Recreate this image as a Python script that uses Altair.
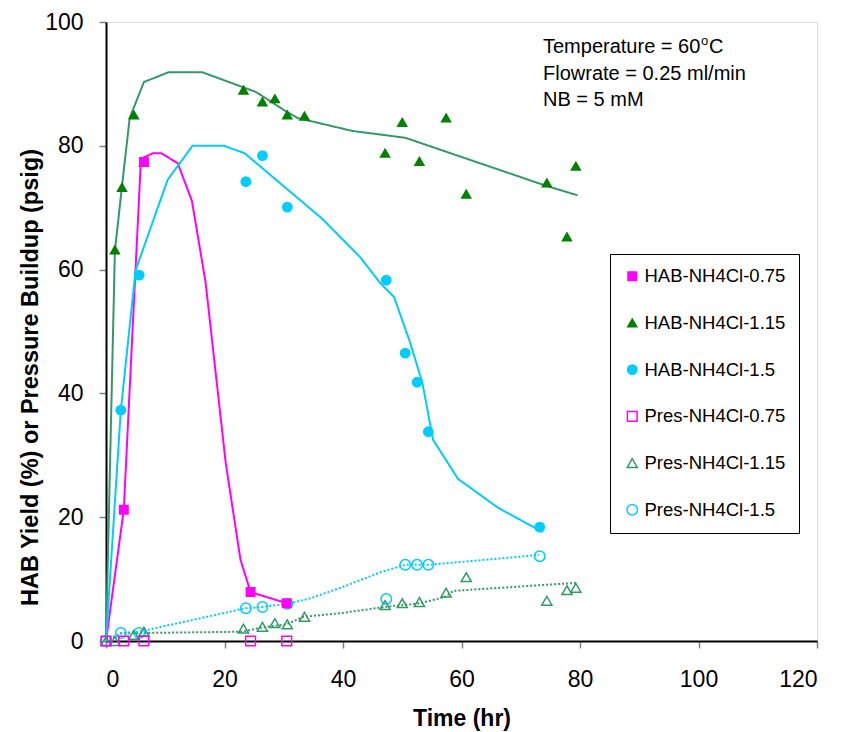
import altair as alt
import pandas as pd

# ---------------- data ----------------
series_names = ["HAB-NH4Cl-0.75", "HAB-NH4Cl-1.15", "HAB-NH4Cl-1.5",
                "Pres-NH4Cl-0.75", "Pres-NH4Cl-1.15", "Pres-NH4Cl-1.5"]

t_hab_075 = [3.0, 6.4, 24.4, 30.5]
y_hab_075 = [21.2, 77.4, 7.9, 6.1]

t_hab_115 = [1.5, 2.7, 4.7, 6.4, 23.2, 26.4, 28.5, 30.6, 33.5, 47.1, 50.0, 52.9, 57.4, 60.8, 74.4, 77.8, 79.3]
y_hab_115 = [63.2, 73.3, 85.0, 77.4, 89.0, 87.1, 87.6, 85.0, 84.8, 78.8, 83.8, 77.5, 84.5, 72.2, 74.0, 65.3, 76.7]

t_hab_15 = [2.5, 5.6, 23.6, 26.4, 30.6, 47.3, 50.5, 52.5, 54.4, 73.2]
y_hab_15 = [37.3, 59.1, 74.2, 78.4, 70.1, 58.3, 46.5, 41.8, 33.8, 18.4]

t_pres_075 = [0.0, 3.0, 6.4, 24.4, 30.5]
y_pres_075 = [0.0, 0.0, 0.0, 0.0, 0.0]

t_pres_115 = [0.0, 1.5, 4.7, 6.4, 23.2, 26.4, 28.5, 30.6, 33.5, 47.1, 50.0, 52.9, 57.4, 60.8, 74.4, 77.8, 79.3]
y_pres_115 = [0.0, 0.0, 1.0, 1.5, 2.0, 2.3, 2.9, 2.7, 3.9, 5.8, 6.1, 6.3, 7.8, 10.3, 6.5, 8.2, 8.6]

t_pres_15 = [0.0, 2.5, 5.6, 23.6, 26.4, 30.6, 47.3, 50.5, 52.5, 54.4, 73.2]
y_pres_15 = [0.0, 1.3, 1.3, 5.3, 5.5, 6.0, 6.8, 12.3, 12.3, 12.3, 13.7]

# trend lines (as drawn)
fit_075_t = [0.0, 3.0, 5.9, 7.9, 9.3, 12.1, 14.5, 16.8, 20.2, 22.7, 24.4, 30.5]
fit_075_y = [0.0, 21.2, 77.9, 78.8, 78.8, 77.2, 71.1, 58.0, 28.8, 13.1, 7.9, 6.1]

fit_115_t = [0.0, 1.5, 2.7, 4.0, 6.4, 10.6, 16.2, 25.3, 30.0, 32.3, 41.6, 50.5, 74.4, 79.6]
fit_115_y = [0.0, 63.0, 73.5, 84.5, 90.3, 91.9, 91.9, 88.7, 85.8, 84.5, 82.4, 81.3, 73.5, 72.0]

fit_15_t = [0.0, 2.5, 5.0, 10.4, 14.6, 19.9, 23.4, 36.5, 42.9, 46.3, 48.6, 51.3, 53.4, 55.2, 59.4, 66.2, 73.7]
fit_15_y = [0.0, 37.3, 59.9, 74.5, 80.0, 80.0, 78.8, 68.2, 62.0, 57.8, 55.6, 48.3, 41.7, 32.5, 26.2, 21.5, 17.6]

fitp_115_t = [0.0, 2.5, 6.7, 23.0, 26.4, 30.5, 33.3, 39.6, 47.1, 53.0, 57.2, 58.6, 79.5]
fitp_115_y = [0.0, 1.2, 1.3, 1.5, 2.2, 2.7, 3.9, 4.5, 5.5, 6.1, 7.1, 8.1, 9.4]

fitp_15_t = [0.0, 2.5, 5.6, 23.6, 26.4, 30.6, 34.5, 39.6, 46.3, 50.5, 54.4, 73.1]
fitp_15_y = [0.0, 1.3, 1.5, 5.3, 5.5, 6.0, 6.9, 8.6, 11.1, 12.3, 12.3, 13.9]

# ---------------- build tables ----------------
pts = []
for name, ts, ys in zip(series_names,
                        [t_hab_075, t_hab_115, t_hab_15, t_pres_075, t_pres_115, t_pres_15],
                        [y_hab_075, y_hab_115, y_hab_15, y_pres_075, y_pres_115, y_pres_15]):
    for t, y in zip(ts, ys):
        pts.append({"series": name, "t": t, "y": y})
pts_df = pd.DataFrame(pts)

fit_names = ["f075", "f115", "f15", "p115", "p15"]
lines = []
for name, ts, ys in zip(fit_names,
                        [fit_075_t, fit_115_t, fit_15_t, fitp_115_t, fitp_15_t],
                        [fit_075_y, fit_115_y, fit_15_y, fitp_115_y, fitp_15_y]):
    for i, (t, y) in enumerate(zip(ts, ys)):
        lines.append({"fit": name, "t": t, "y": y, "i": i})
lines_df = pd.DataFrame(lines)

MAG = "#FF00FF"
DKG = "#008000"
SEA = "#339966"
CYA = "#00CCFF"
FONT = "Liberation Sans"

xscale = alt.Scale(domain=[0, 120], nice=False, zero=False)
yscale = alt.Scale(domain=[0, 100], nice=False, zero=False)

xaxis = alt.Axis(values=[0, 20, 40, 60, 80, 100, 120], title="Time (hr)", grid=False,
                 tickSize=7, tickColor="#808080", tickWidth=1.5, domainColor="black", domainWidth=2,
                 labelFontSize=23, labelPadding=20, labelColor="black", labelFont=FONT,
                 titleFont=FONT, titleFontSize=23, titleFontWeight="bold",
                 titleColor="black", titleY=77, titleBaseline="middle", titleX=355.5)
yaxis = alt.Axis(values=[0, 20, 40, 60, 80, 100], title="HAB Yield (%) or Pressure Buildup (psig)",
                 grid=False, tickSize=7, tickColor="#808080", tickWidth=1.5, domainColor="black",
                 domainWidth=2, labelFontSize=23, labelPadding=16, labelColor="black",
                 labelFont=FONT, titleFont=FONT, titleFontSize=23.5,
                 titleFontWeight="bold", titleColor="black", titleX=-76, titleY=355,
                 titleBaseline="middle", titleAngle=-90, titleAlign="center")

line_layer = alt.Chart(lines_df).mark_line(strokeWidth=2).encode(
    x=alt.X("t:Q", scale=xscale, axis=xaxis),
    y=alt.Y("y:Q", scale=yscale, axis=yaxis),
    color=alt.Color("fit:N", scale=alt.Scale(domain=fit_names, range=[MAG, SEA, CYA, SEA, CYA]), legend=None),
    strokeDash=alt.StrokeDash("fit:N", scale=alt.Scale(domain=fit_names,
                              range=[[1, 0], [1, 0], [1, 0], [2, 2], [2, 2]]), legend=None),
    order=alt.Order("i:Q"),
)

legend = alt.Legend(title=None, orient="none", legendX=504, legendY=232, labelFontSize=18.5,
                    labelFont=FONT, labelColor="black", rowPadding=27.7, padding=13,
                    strokeColor="black", fillColor="white", symbolStrokeWidth=1.5, labelOffset=3)

point_layer = alt.Chart(pts_df).mark_point(filled=True, opacity=1, strokeWidth=1.5).encode(
    x=alt.X("t:Q", scale=xscale),
    y=alt.Y("y:Q", scale=yscale),
    shape=alt.Shape("series:N", scale=alt.Scale(domain=series_names,
                    range=["square", "triangle-up", "circle", "square", "triangle-up", "circle"]),
                    legend=legend),
    fill=alt.Fill("series:N", scale=alt.Scale(domain=series_names,
                  range=[MAG, DKG, CYA, "transparent", "transparent", "transparent"]), legend=legend),
    stroke=alt.Stroke("series:N", scale=alt.Scale(domain=series_names,
                      range=[MAG, DKG, CYA, MAG, SEA, CYA]), legend=legend),
    size=alt.Size("series:N", scale=alt.Scale(domain=series_names,
                  range=[72, 110, 81, 56, 100, 64]), legend=legend),
    order=alt.Order("series:N", sort="descending"),
)


def label(txt, x, y, size=20):
    return alt.Chart(pd.DataFrame({"txt": [txt]})).mark_text(
        align="left", baseline="middle", fontSize=size, font=FONT, color="black").encode(
        text="txt:N", x=alt.value(x), y=alt.value(y))


ann = [
    label("Temperature = 60", 437, 25),
    label("o", 595, 19, 13),
    label("C", 603, 25),
    label("Flowrate = 0.25 ml/min", 437, 52),
    label("NB = 5 mM", 437, 78),
]

chart = alt.layer(line_layer, point_layer, *ann).properties(
    width=711, height=619,
    autosize=alt.AutoSizeParams(type="none"),
    padding={"left": 98, "top": 14, "right": 10, "bottom": 90},
).configure_view(stroke="black", strokeWidth=1.5).configure(background="white")

chart.save("out.html", embed_options={"renderer": "svg", "actions": False})
